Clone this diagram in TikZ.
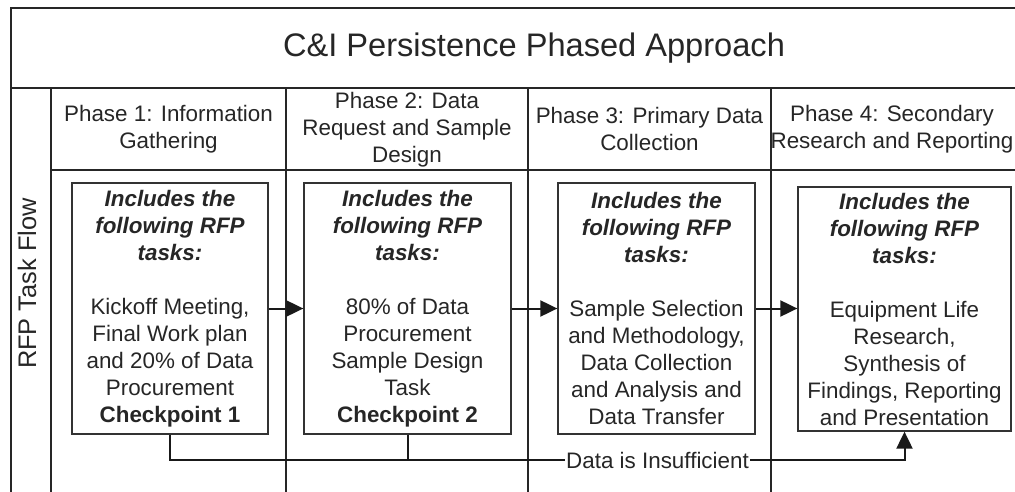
\documentclass[tikz,border=0pt]{standalone}
\usepackage{fontspec}
\setmainfont{Liberation Sans}
\usetikzlibrary{arrows.meta}
\newcommand{\taskhead}[1]{\textbf{\textit{#1}}}

\begin{document}
\begin{tikzpicture}[x=1pt,y=-1pt,
    lane/.style={line width=2pt,draw=black!85},
    phase/.style={align=center,font=\fontsize{22.4}{27}\selectfont,text=black!85},
    taskbox/.style={draw=black!80,line width=1.3pt,align=center,inner sep=0pt,
      minimum height=251pt,font=\fontsize{22.4}{27}\selectfont,text=black!85},
    flowline/.style={line width=2pt,draw=black!90},
    flowtip/.style={-{Triangle[length=17pt,width=16pt]}}]
  \clip (0,0) rectangle (1015,492);
  % swimlane frame
  \draw[lane] (11,500) -- (11,8) -- (1030,8);
  \draw[lane] (11,88) -- (1030,88);
  \draw[lane] (51,88) -- (51,500);
  \draw[lane] (51,170) -- (1030,170);
  \draw[lane] (286,88) -- (286,500);
  \draw[lane] (528,88) -- (528,500);
  \draw[lane] (771,88) -- (771,500);
  \node [anchor=base,font=\fontsize{32.6}{39}\selectfont,text=black!85] (title) at (534,57) {C\&I Persistence Phased Approach};
  \node [rotate=90,font=\fontsize{25.4}{30}\selectfont,text=black!85] (taskflow) at (27,283.5) {RFP Task Flow};
  % phase headers
  \node [phase] (phase1) at (168.5,129) {Phase 1: Information\\Gathering};
  \node [phase] (phase2) at (407,130) {Phase 2: Data\\Request and Sample\\Design};
  \node [phase] (phase3) at (649.5,129) {Phase 3: Primary Data\\Collection};
  \node [phase] (phase4) at (892,129) {Phase 4: Secondary\\Research and Reporting};
  % task boxes
  \node [taskbox,minimum width=196pt] (box1) at (170,308.5) {\taskhead{Includes the}\\\taskhead{following RFP}\\\taskhead{tasks:}\\[27pt]Kickoff Meeting,\\Final Work plan\\and 20\% of Data\\Procurement\\\textbf{Checkpoint 1}};
  \node [taskbox,minimum width=207pt] (box2) at (407.5,308.5) {\taskhead{Includes the}\\\taskhead{following RFP}\\\taskhead{tasks:}\\[27pt]80\% of Data\\Procurement\\Sample Design\\Task\\\textbf{Checkpoint 2}};
  \node [taskbox,minimum width=197pt] (box3) at (656.5,308.5) {\taskhead{Includes the}\\\taskhead{following RFP}\\\taskhead{tasks:}\\[27pt]Sample Selection\\and Methodology,\\Data Collection\\and Analysis and\\Data Transfer};
  \node [taskbox,minimum width=213pt,minimum height=244pt] (box4) at (904.5,309) {\taskhead{Includes the}\\\taskhead{following RFP}\\\taskhead{tasks:}\\[27pt]Equipment Life\\Research,\\Synthesis of\\Findings, Reporting\\and Presentation};
  % connectors
  \draw [flowline,flowtip] (box1.east) -- (box2.west);
  \draw [flowline,flowtip] (box2.east) -- (box3.west);
  \draw [flowline,flowtip] (box3.east) -- (box3.east -| box4.west);
  \node [inner sep=1pt,font=\fontsize{22.4}{27}\selectfont,text=black!85] (insufficient) at (657.5,460) {Data is Insufficient};
  \draw [flowline] (box1.south) |- (insufficient.west);
  \draw [flowline] (box2.south) -- (box2.south |- insufficient.west);
  \draw [flowline,flowtip] (insufficient.east) -| (box4.south);
\end{tikzpicture}
\end{document}
